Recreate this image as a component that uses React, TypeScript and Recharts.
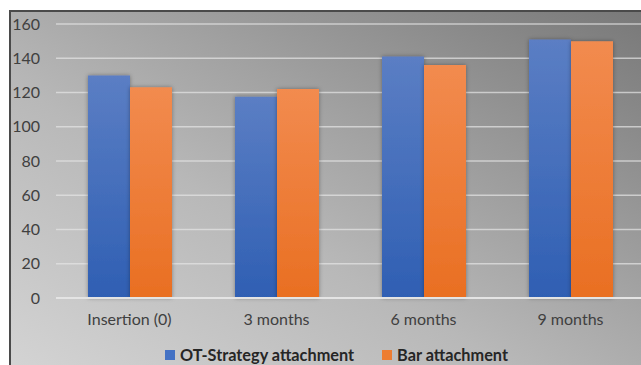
import React from 'react';
import { BarChart, Bar, XAxis, YAxis, CartesianGrid } from 'recharts';

const categories = ['Insertion (0)', '3 months', '6 months', '9 months'];
const otStrategy = [130, 117.5, 141, 151];
const barAttachment = [123, 122, 136, 150];
const yTicks = [0, 20, 40, 60, 80, 100, 120, 140, 160];

const data = categories.map((name, i) => ({
  name,
  ot: otStrategy[i],
  bar: barAttachment[i],
}));

const FONT = 'Lato, "Open Sans", sans-serif';
const TEXT = '#404040';

const LegendRow = () => (
  <div
    style={{
      position: 'absolute',
      left: 165,
      top: 345,
      display: 'flex',
      alignItems: 'center',
      gap: 28,
      fontFamily: FONT,
      fontWeight: 700,
      fontSize: 16.3,
      lineHeight: '20px',
      color: '#262626',
      whiteSpace: 'nowrap',
    }}
  >
    <span style={{ display: 'flex', alignItems: 'center' }}>
      <span style={{ width: 10, height: 10, background: '#4472c4', marginRight: 5 }} />
      OT-Strategy attachment
    </span>
    <span style={{ display: 'flex', alignItems: 'center' }}>
      <span style={{ width: 10, height: 10, background: '#ed7d31', marginRight: 5 }} />
      Bar attachment
    </span>
  </div>
);

export default function App() {
  return (
    <div
      style={{
        position: 'absolute',
        left: 0,
        top: 0,
        width: 641,
        height: 365,
        overflow: 'hidden',
        background: '#fff',
      }}
    >
      {/* gray panel behind the plot */}
      <div
        style={{
          position: 'absolute',
          left: 9,
          top: 10,
          width: 640,
          height: 360,
          borderTop: '2px solid #4a4a4a',
          borderLeft: '2px solid #4a4a4a',
          background: 'linear-gradient(to top right, #d4d4d4 0%, #b8b8b8 40%, #787878 100%)',
        }}
      />
      <div style={{ position: 'absolute', left: 0, top: 0 }}>
        <BarChart
          width={660}
          height={365}
          data={data}
          margin={{ top: 24, right: 16, bottom: 37, left: 0 }}
          barGap={0}
          barSize={42}
        >
          <defs>
            <linearGradient id="blueFill" x1="0" y1="0" x2="0" y2="1">
              <stop offset="0%" stopColor="#5b7ec4" />
              <stop offset="100%" stopColor="#2f5fb3" />
            </linearGradient>
            <linearGradient id="orangeFill" x1="0" y1="0" x2="0" y2="1">
              <stop offset="0%" stopColor="#f28b4f" />
              <stop offset="100%" stopColor="#e96f22" />
            </linearGradient>
            <filter id="barShadow" x="-20%" y="-10%" width="140%" height="120%">
              <feDropShadow dx="0" dy="0" stdDeviation="2" floodColor="#000" floodOpacity="0.35" />
            </filter>
          </defs>
          <CartesianGrid vertical={false} stroke="#e6e6e6" strokeOpacity={0.7} strokeWidth={1.5} />
          <XAxis
            dataKey="name"
            axisLine={{ stroke: '#e4e4e4', strokeWidth: 2 }}
            tickLine={false}
            tickMargin={10}
            tick={{ fill: TEXT, fontSize: 16, fontFamily: FONT }}
          />
          <YAxis
            domain={[0, 160]}
            ticks={yTicks}
            width={56}
            axisLine={false}
            tickLine={false}
            tickMargin={10}
            tick={{ fill: TEXT, fontSize: 16, fontFamily: FONT }}
          />
          <Bar dataKey="ot" name="OT-Strategy attachment" fill="url(#blueFill)" filter="url(#barShadow)" isAnimationActive={false} />
          <Bar dataKey="bar" name="Bar attachment" fill="url(#orangeFill)" filter="url(#barShadow)" isAnimationActive={false} />
        </BarChart>
      </div>
      <LegendRow />
    </div>
  );
}
